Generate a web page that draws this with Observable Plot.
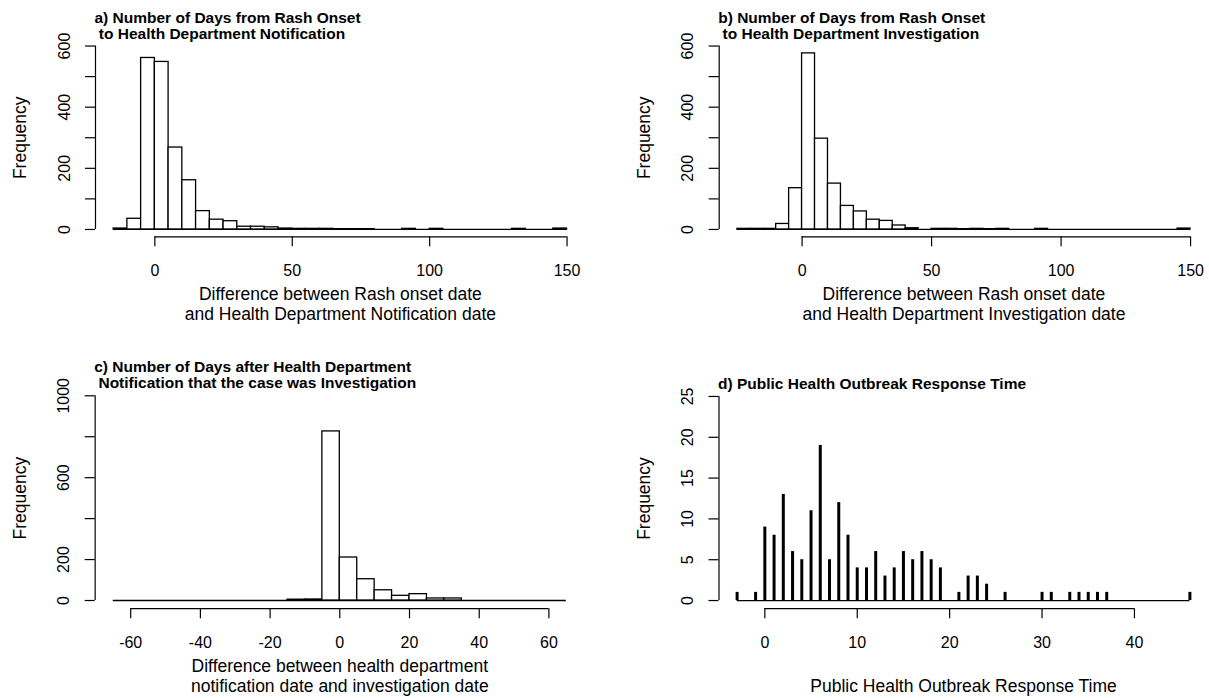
<!DOCTYPE html>
<html>
<head>
<meta charset="utf-8">
<script src="https://cdn.jsdelivr.net/npm/d3@7"></script>
<script src="https://cdn.jsdelivr.net/npm/@observablehq/plot@0.6"></script>
<style>
  html, body { margin: 0; padding: 0; background: #fff; }
  #fig { position: relative; width: 1209px; height: 698px; overflow: hidden; background: #fff; }
  .cell { position: absolute; }
</style>
</head>
<body>
<div id="fig"></div>
<script>
// ---- a) days from rash onset to health department notification (5-day bins) ----
const notifBinStart = [-15, -10, -5, 0, 5, 10, 15, 20, 25, 30, 35, 40, 45, 50, 55, 60, 65, 70, 75, 80, 85, 90, 95, 100, 105, 110, 115, 120, 125, 130, 135, 140, 145];
const notifCounts   = [3, 35, 561, 548, 268, 161, 60, 32, 27, 9, 9, 7, 3, 2, 2, 2, 1, 1, 1, 0, 0, 2, 0, 2, 0, 0, 0, 0, 0, 2, 0, 0, 3];

// ---- b) days from rash onset to health department investigation (5-day bins) ----
const invBinStart = [-25, -20, -15, -10, -5, 0, 5, 10, 15, 20, 25, 30, 35, 40, 45, 50, 55, 60, 65, 70, 75, 80, 85, 90, 95, 100, 105, 110, 115, 120, 125, 130, 135, 140, 145];
const invCounts   = [2, 2, 2, 18, 135, 576, 297, 150, 77, 59, 32, 28, 13, 4, 0, 2, 2, 1, 2, 1, 2, 0, 0, 2, 0, 0, 0, 0, 0, 0, 0, 0, 0, 0, 3];

// ---- c) days between notification and investigation (5-day bins) ----
const lagBinStart = [-65, -60, -55, -50, -45, -40, -35, -30, -25, -20, -15, -10, -5, 0, 5, 10, 15, 20, 25, 30, 35, 40, 45, 50, 55, 60];
const lagCounts   = [0, 0, 0, 0, 0, 0, 0, 0, 0, 0, 4, 5, 826, 210, 104, 50, 23, 31, 10, 10, 0, 0, 0, 0, 0, 0];

// ---- d) outbreak response time, one count per day ----
const responseDays   = [-3, -1, 0, 1, 2, 3, 4, 5, 6, 7, 8, 9, 10, 11, 12, 13, 14, 15, 16, 17, 18, 19, 21, 22, 23, 24, 26, 30, 31, 33, 34, 35, 36, 37, 46];
const responseCounts = [1, 1, 9, 8, 13, 6, 5, 11, 19, 5, 12, 8, 4, 4, 6, 3, 4, 6, 5, 6, 5, 4, 1, 3, 3, 2, 1, 1, 1, 1, 1, 1, 1, 1, 1];

// ---- axis ticks ----
const histYTicks = [0, 100, 200, 300, 400, 500, 600];
const histYLabels = [0, 200, 400, 600];
const delayXTicks = [0, 50, 100, 150];
const lagXTicks = [-60, -40, -20, 0, 20, 40, 60];
const lagYTicks = [0, 200, 400, 600, 800, 1000];
const lagYLabels = [0, 200, 600, 1000];
const respXTicks = [0, 10, 20, 30, 40];
const respYTicks = [0, 5, 10, 15, 20, 25];

// ---- titles ----
const titles = [
  "a) Number of Days from Rash Onset\n\u00a0to Health Department Notification",
  "b) Number of Days from Rash Onset\n\u00a0to Health Department Investigation",
  "c) Number of Days after Health Department\n\u00a0Notification that the case was Investigation",
  "d) Public Health Outbreak Response Time"
];
const xTitles = [
  "Difference between Rash onset date\nand Health Department Notification date",
  "Difference between Rash onset date\nand Health Department Investigation date",
  "Difference between health department\nnotification date and investigation date",
  "Public Health Outbreak Response Time"
];
const yTitle = "Frequency";

const FONT = "'Liberation Sans', Arial, Helvetica, sans-serif";
const BIN = 5;

function binTable(starts, counts) {
  return starts.map((lo, i) => ({lo, hi: lo + BIN, n: counts[i]}));
}

// Base-graphics style frame: detached axis lines, outward ticks, rotated y labels
function frameMarks({xDomain, yDomain, xTicks, yTicks, yLabels, title, xTitle}) {
  return [
    Plot.ruleY([yDomain[0]], {x1: xTicks[0], x2: xTicks[xTicks.length - 1], stroke: "black", strokeWidth: 1.2}),
    Plot.axisX({ticks: xTicks, tickSize: 10, tickPadding: 18, tickFormat: d => String(d),
      label: null, stroke: "black", strokeWidth: 1.2, fontSize: 16}),
    Plot.ruleX([xDomain[0]], {y1: yTicks[0], y2: yTicks[yTicks.length - 1], stroke: "black", strokeWidth: 1.2}),
    Plot.axisY({ticks: yTicks, tickSize: 10, tickRotate: -90, tickPadding: 16,
      tickFormat: d => (yLabels.includes(d) ? String(d) : ""),
      label: null, stroke: "black", strokeWidth: 1.2, fontSize: 16}),
    Plot.text([title], {text: d => d, frameAnchor: "top-left", textAnchor: "start", lineAnchor: "bottom",
      dx: -1, dy: 0.5, fontWeight: "bold", fontSize: 15.5, lineHeight: 1.03, fill: "black"}),
    Plot.text([xTitle], {text: d => d, frameAnchor: "bottom", textAnchor: "middle", lineAnchor: "bottom",
      dy: 83.5, fontSize: 17.5, lineHeight: 1.14, fill: "black"}),
    Plot.text([yTitle], {text: d => d, frameAnchor: "left", rotate: -90, textAnchor: "middle",
      lineAnchor: "middle", dx: -75, fontSize: 17.5, fill: "black"})
  ];
}

function histMarks(starts, counts) {
  const table = binTable(starts, counts);
  return [
    // empty bins show as a flat outline along zero
    Plot.ruleY([0], {x1: starts[0], x2: starts[starts.length - 1] + BIN, stroke: "black", strokeWidth: 1.3}),
    Plot.rectY(table.filter(d => d.n > 0), {x1: "lo", x2: "hi", y: "n", inset: 0,
      fill: "white", stroke: "black", strokeWidth: 1.3})
  ];
}

function makePanel(cfg) {
  const {left, top, width, height, margins, xDomain, yDomain, marks} = cfg;
  const chart = Plot.plot({
    width, height,
    marginTop: margins[0], marginRight: margins[1], marginBottom: margins[2], marginLeft: margins[3],
    x: {domain: xDomain},
    y: {domain: yDomain},
    style: {fontFamily: FONT, fontSize: "16px", color: "black", background: "white", overflow: "visible"},
    marks: [...marks, ...frameMarks(cfg)]
  });
  const cell = document.createElement("div");
  cell.className = "cell";
  cell.style.left = left + "px";
  cell.style.top = top + "px";
  cell.appendChild(chart);
  document.getElementById("fig").appendChild(cell);
}

// a)
makePanel({
  left: 0, top: 0, width: 604, height: 349,
  margins: [38.2, 19.3, 112.7, 95],
  xDomain: [-21.6, 156.6], yDomain: [-24, 624],
  xTicks: delayXTicks, yTicks: histYTicks, yLabels: histYLabels,
  title: titles[0], xTitle: xTitles[0],
  marks: histMarks(notifBinStart, notifCounts)
});

// b)
makePanel({
  left: 604, top: 0, width: 605, height: 349,
  margins: [38.2, 0.8, 112.7, 114.7],
  xDomain: [-32, 157], yDomain: [-24, 624],
  xTicks: delayXTicks, yTicks: histYTicks, yLabels: histYLabels,
  title: titles[1], xTitle: xTitles[1],
  marks: histMarks(invBinStart, invCounts)
});

// c)
makePanel({
  left: 0, top: 349, width: 604, height: 349,
  margins: [38.1, 20.05, 89.8, 94.65],
  xDomain: [-70.2, 70.2], yDomain: [-40, 1040],
  xTicks: lagXTicks, yTicks: lagYTicks, yLabels: lagYLabels,
  title: titles[2], xTitle: xTitles[2],
  marks: histMarks(lagBinStart, lagCounts)
});

// d)
const responseTable = responseDays.map((day, i) => ({day, n: responseCounts[i]}));
makePanel({
  left: 604, top: 349, width: 605, height: 349,
  margins: [38.8, 1.5, 89.8, 114.5],
  xDomain: [-4.96, 47.96], yDomain: [-1, 26],
  xTicks: respXTicks, yTicks: respYTicks, yLabels: respYTicks,
  title: titles[3], xTitle: xTitles[3],
  marks: [
    Plot.ruleY([0], {x1: responseDays[0], x2: responseDays[responseDays.length - 1], stroke: "black", strokeWidth: 1.2}),
    Plot.ruleX(responseTable, {x: "day", y1: 0, y2: "n", stroke: "black", strokeWidth: 3})
  ]
});
</script>
</body>
</html>
